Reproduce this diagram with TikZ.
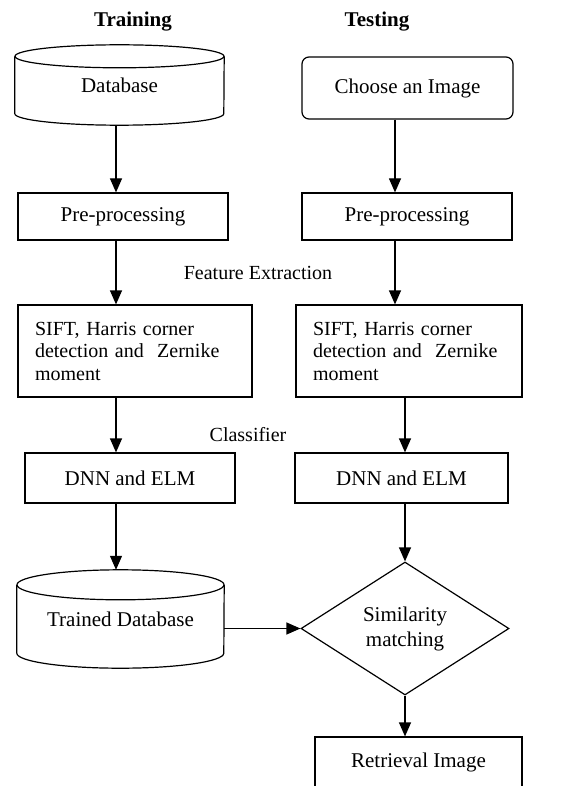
\documentclass[tikz,border=0pt]{standalone}
\usepackage{fontspec}
\setmainfont{Liberation Serif}
\usepackage{tikz}
\usetikzlibrary{positioning, arrows.meta, shapes.geometric}

\tikzset{
  blk/.style={draw, line width=1.2pt, inner sep=0pt, align=center},
  dbase/.style={inner sep=0pt, align=center},
  edge/.style={line width=1.2pt},
  arr/.style={line width=1.2pt, -{Triangle[length=14pt,width=12pt]}},
  lbl/.style={inner sep=0pt, font=\fontsize{20}{24}\selectfont},
  txt/.style={font=\fontsize{20}{22.5}\selectfont, align=left}
}

\begin{document}
\begin{tikzpicture}[x=1pt, y=-1pt, font=\fontsize{21}{25}\selectfont]
\useasboundingbox (0,0) rectangle (586,786);

\node[inner sep=0pt, font=\fontsize{21}{25}\selectfont\bfseries] (train) at (133,22) {Training};
\node[inner sep=0pt, font=\fontsize{21}{25}\selectfont\bfseries] (test) at (377,22) {Testing};

\node[dbase, minimum width=209pt, minimum height=80pt] (db) at (119.5,85) {Database};
\draw[edge] ([yshift=-11.5pt]db.north west) -- ([yshift=11.5pt]db.south west)
  arc[start angle=180, end angle=360, x radius=104.5pt, y radius=11.5pt] -- ([yshift=-11.5pt]db.north east);
\draw[edge] ([yshift=-11.5pt]db.north) ellipse[x radius=104.5pt, y radius=11.5pt];

\node[blk, rounded corners=7pt, minimum width=211pt, minimum height=62pt] (choose) at (407.5,88) {Choose an Image};

\node[blk, minimum width=210pt, minimum height=47pt] (pre1) at (123,216.5) {Pre-processing};
\node[blk, minimum width=210pt, minimum height=47pt] (pre2) at (407,216.5) {Pre-processing};

\node[lbl] (feat) at (258,273) {Feature Extraction};

\node[blk, txt, minimum width=234pt, minimum height=92pt, text width=200pt] (sift1) at (135,351)
  {SIFT, Harris corner\\detection and~ Zernike\\moment};
\node[blk, txt, minimum width=226pt, minimum height=92pt, text width=192pt] (sift2) at (409,351)
  {SIFT, Harris corner\\detection and~ Zernike\\moment};

\node[lbl] (cls) at (248,435) {Classifier};

\node[blk, minimum width=210pt, minimum height=50pt] (dnn1) at (130,478) {DNN and ELM};
\node[blk, minimum width=213pt, minimum height=50pt] (dnn2) at (401.5,478) {DNN and ELM};

\node[dbase, minimum width=207pt, minimum height=98pt] (tdb) at (120.5,619) {Trained Database};
\draw[edge] ([yshift=-15pt]tdb.north west) -- ([yshift=15pt]tdb.south west)
  arc[start angle=180, end angle=360, x radius=103.5pt, y radius=15pt] -- ([yshift=-15pt]tdb.north east);
\draw[edge] ([yshift=-15pt]tdb.north) ellipse[x radius=103.5pt, y radius=15pt];

\node[draw, line width=1.2pt, diamond, inner sep=0pt, aspect=1.56, minimum width=208pt, minimum height=133pt, align=center] (sim) at (405,628.5) {Similarity\\matching};

\node[blk, minimum width=207pt, minimum height=50pt] (ret) at (418.5,762) {Retrieval Image};

\coordinate (lc) at (116,0);
\coordinate (rc) at (395,0);
\coordinate (rd) at (405,0);

\draw[arr] (lc |- db.south) -- (lc |- pre1.north);
\draw[arr] (lc |- pre1.south) -- (lc |- sift1.north);
\draw[arr] (lc |- sift1.south) -- (lc |- dnn1.north);
\draw[arr] (lc |- dnn1.south) -- (lc |- tdb.north);

\draw[arr] (rc |- choose.south) -- (rc |- pre2.north);
\draw[arr] (rc |- pre2.south) -- (rc |- sift2.north);
\draw[arr] (rd |- sift2.south) -- (rd |- dnn2.north);
\draw[arr] (rd |- dnn2.south) -- (rd |- sim.north);
\draw[arr] (sim.south) -- (sim.south |- ret.north);

\draw[arr] (tdb.east |- sim.west) -- (sim.west);
\end{tikzpicture}
\end{document}
